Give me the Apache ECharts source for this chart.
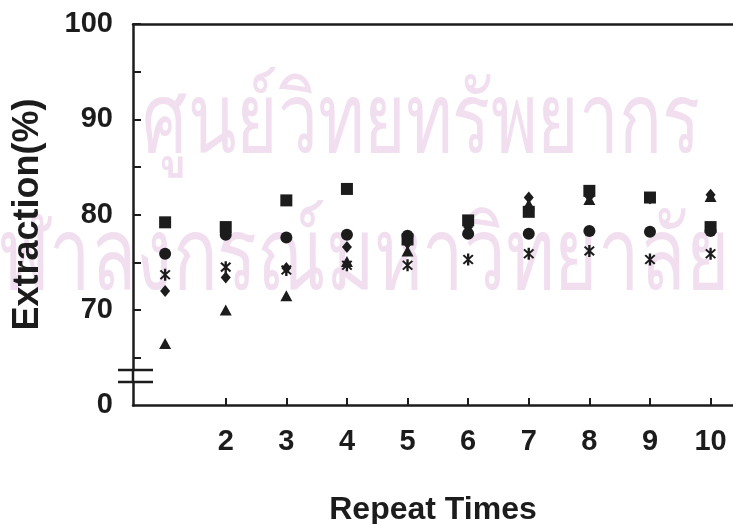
<!DOCTYPE html>
<html>
<head>
<meta charset="utf-8">
<script src="https://cdn.jsdelivr.net/npm/echarts@6/dist/echarts.min.js"></script>
<style>
  html, body { margin: 0; padding: 0; background: #fff; }
  #chart { width: 733px; height: 524px; }
</style>
</head>
<body>
<div id="chart"></div>
<script>
// Repeat number (x) and extraction percentage for each marker series
const repeats = [1, 2, 3, 4, 5, 6, 7, 8, 9, 10];
const squareVals   = [79.2, 78.7, 81.5, 82.7, 77.4, 79.4, 80.3, 82.5, 81.8, 78.7];
const circleVals   = [75.9, 77.9, 77.6, 77.9, 77.8, 78.0, 78.0, 78.3, 78.2, 78.3];
const diamondVals  = [72.0, 73.4, 74.4, 76.6, 77.0, 78.7, 81.8, 81.9, 81.7, 82.1];
const triangleVals = [66.5, 70.0, 71.5, 75.1, 76.2, 78.4, 81.1, 81.6, 81.8, 81.9];
const starVals     = [73.7, 74.5, 74.2, 74.7, 74.7, 75.3, 75.9, 76.2, 75.3, 75.9];

const xTickValues = [2, 3, 4, 5, 6, 7, 8, 9, 10];
const yLabelValues = [0, 70, 80, 90, 100];
const yTickValues = [65, 70, 75, 80, 85, 90, 95, 100];
const axisBreak = { start: 2.4, end: 63.7, gap: 1.26 };

// library stamp printed faintly behind the plot
const stampLines = ['ศูนย์วิทยทรัพยากร', 'จุฬาลงกรณ์มหาวิทยาลัย'];

const ink = '#1c1c1c';
const font = 'Liberation Sans, Arial, Helvetica, sans-serif';

// asterisk marker: a vertical bar plus two diagonals, all wound the same way
const asterisk = 'path://M-0.9,-5L0.9,-5L0.9,5L-0.9,5Z' +
  'M3.06,4.2L-4.2,-3.06L-3.06,-4.2L4.2,3.06Z' +
  'M-3.06,4.2L-4.2,3.06L3.06,-4.2L4.2,-3.06Z';

function pairs(vals) { return repeats.map((x, i) => [x, vals[i]]); }

function scatter(name, vals, symbol, size) {
  return {
    name, type: 'scatter', data: pairs(vals), symbol, symbolSize: size,
    itemStyle: { color: ink, opacity: 1 }, silent: true, z: 5
  };
}

const chart = echarts.init(document.getElementById('chart'), null, { renderer: 'canvas' });

chart.setOption({
  animation: false,
  backgroundColor: '#ffffff',
  grid: { left: 133, right: 0, top: 24, bottom: 119, containLabel: false, outerBoundsMode: 'none' },
  xAxis: [{
    type: 'value', min: 0.47, max: 10.37,
    name: 'Repeat Times', nameLocation: 'middle', nameGap: 89,
    nameTextStyle: { fontFamily: font, fontWeight: 'bold', fontSize: 32, color: ink },
    axisLine: { show: true, onZero: false, lineStyle: { color: ink, width: 2.5 } },
    axisTick: { show: true, inside: true, length: 7, customValues: xTickValues,
                lineStyle: { color: ink, width: 2 } },
    axisLabel: { show: true, customValues: xTickValues, margin: 22,
                 fontFamily: font, fontWeight: 'bold', fontSize: 29, color: ink },
    splitLine: { show: false }
  }, {
    type: 'value', position: 'top', min: 0.47, max: 10.37,
    axisLine: { show: true, onZero: false, lineStyle: { color: ink, width: 2.5 } },
    axisTick: { show: false }, axisLabel: { show: false }, splitLine: { show: false }
  }],
  yAxis: {
    type: 'value', min: 0, max: 100,
    breaks: [axisBreak],
    breakArea: { show: false },
    name: 'Extraction(%)', nameLocation: 'middle', nameGap: 87, nameRotate: 90,
    nameTextStyle: { fontFamily: font, fontWeight: 'bold', fontSize: 36, color: ink },
    axisLine: { show: true, lineStyle: { color: ink, width: 2.5 } },
    axisTick: { show: true, inside: true, length: 8, customValues: yTickValues,
                lineStyle: { color: ink, width: 2 } },
    axisLabel: { show: true, customValues: yLabelValues, margin: 20,
                 fontFamily: font, fontWeight: 'bold', fontSize: 29, color: ink },
    splitLine: { show: false }
  },
  series: [
    scatter('square', squareVals, 'rect', 12),
    scatter('circle', circleVals, 'circle', 12),
    scatter('diamond', diamondVals, 'diamond', [10, 12]),
    scatter('triangle', triangleVals, 'triangle', [12, 11]),
    scatter('star', starVals, asterisk, [11, 12])
  ]
});

// double-bar break marks across the y axis at the break edges
const axisX = chart.convertToPixel({ xAxisIndex: 0 }, 0.47);
const yLow = chart.convertToPixel({ yAxisIndex: 0 }, axisBreak.start);
const yHigh = chart.convertToPixel({ yAxisIndex: 0 }, axisBreak.end);
const markStyle = { stroke: ink, lineWidth: 2.5 };
const stampStyle = { fill: '#f1dff0', fontSize: 78, fontFamily: 'sans-serif',
                     align: 'left', verticalAlign: 'top' };
chart.setOption({
  graphic: [
    { type: 'text', x: 142, y: 76, scaleX: 0.91, scaleY: 1.25, z: -10, silent: true,
      style: Object.assign({ text: stampLines[0] }, stampStyle) },
    { type: 'text', x: -45, y: 210, scaleX: 0.95, scaleY: 1.3, z: -10, silent: true,
      style: Object.assign({ text: stampLines[1] }, stampStyle) },
    { type: 'rect', shape: { x: axisX - 16, y: yHigh, width: 36, height: yLow - yHigh },
      style: { fill: '#fff' }, z: 10 },
    { type: 'line', shape: { x1: axisX - 15, y1: yHigh, x2: axisX + 20, y2: yHigh },
      style: markStyle, z: 11 },
    { type: 'line', shape: { x1: axisX - 15, y1: yLow, x2: axisX + 20, y2: yLow },
      style: markStyle, z: 11 },
    { type: 'line', shape: { x1: axisX, y1: yHigh, x2: axisX, y2: yLow },
      style: markStyle, z: 11 }
  ]
});
</script>
</body>
</html>
